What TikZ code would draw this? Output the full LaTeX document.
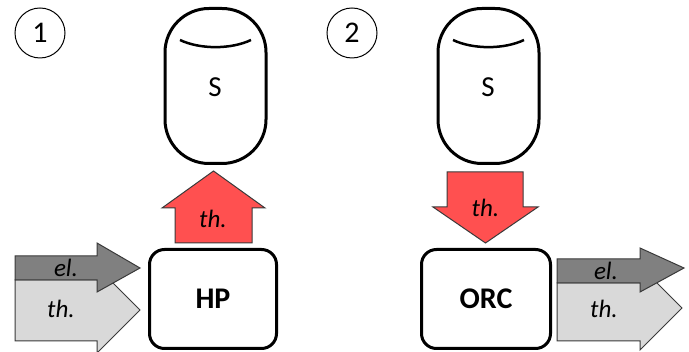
\documentclass[tikz,border=0pt]{standalone}
\usepackage{fontspec}
\setmainfont{Carlito}
\definecolor{heatred}{HTML}{FF5050}
\definecolor{elgray}{HTML}{808080}
\definecolor{thgray}{HTML}{D9D9D9}
\definecolor{edge}{HTML}{3A3A3A}
\begin{document}
\begin{tikzpicture}[x=1pt,y=-1pt,
  tank/.style={draw,line width=3pt,rounded corners=44pt,minimum width=101pt,minimum height=155pt,inner sep=0pt},
  unit/.style={draw,line width=3pt,rounded corners=15pt,minimum height=99pt,inner sep=0pt,font=\fontsize{30}{34}\selectfont\bfseries},
  numcirc/.style={draw,circle,line width=1pt,minimum size=50pt,inner sep=0pt,font=\fontsize{30}{34}\selectfont},
  flow/.style={draw=edge,line width=1pt,line join=miter},
  flowlbl/.style={anchor=base,inner sep=0pt,font=\fontsize{25}{28}\selectfont\itshape},
  biglbl/.style={anchor=base,inner sep=0pt,font=\fontsize{29}{32}\selectfont}]
\useasboundingbox (0,0) rectangle (689,352);

% ---------- panel 1: heat pump charging the storage ----------
\node[numcirc] (n1) at (40,33) {1};
\node[tank] (s1) at (215.5,86) {};
\draw[line width=2.5pt] (180,40) .. controls (200,49.5) and (231,49.5) .. (251,40);
\node[biglbl] (s1t) at (215,97) {S};

% red heat arrow pointing up into the storage
\path[flow,fill=heatred] (175,243) -- (175,208) -- (162,208) -- (213.5,171)
  -- (265,208) -- (252,208) -- (252,243) -- cycle;
\node[flowlbl] (h1) at (213,228) {th.};

\node[unit,minimum width=127pt] (hp) at (213,299) {HP};

% inputs to the heat pump: heat (light) below electricity (dark)
\path[flow,fill=thgray] (15,280) -- (97,280) -- (97,267) -- (140,310)
  -- (97,353) -- (97,341) -- (15,341) -- cycle;
\path[flow,fill=elgray] (15,256) -- (97,256) -- (97,243) -- (140,268)
  -- (97,292) -- (97,280) -- (15,280) -- cycle;
\node[flowlbl] (e1) at (66,277) {el.};
\node[flowlbl] (t1) at (61,318) {th.};

% ---------- panel 2: ORC discharging the storage ----------
\node[numcirc] (n2) at (352,33) {2};
\node[tank] (s2) at (488.5,86) {};
\draw[line width=2.5pt] (453,40) .. controls (473,49.5) and (504,49.5) .. (524,40);
\node[biglbl] (s2t) at (488,97) {S};

% red heat arrow pointing down out of the storage
\path[flow,fill=heatred] (447,172) -- (523,172) -- (523,207) -- (538,207)
  -- (485.5,243) -- (433,207) -- (447,207) -- cycle;
\node[flowlbl] (h2) at (485.5,217) {th.};

\node[unit,minimum width=129pt] (orc) at (486,299) {ORC};

% outputs of the ORC: heat (light) below electricity (dark)
\path[flow,fill=thgray] (557,283) -- (640,283) -- (640,266) -- (682,308)
  -- (640,350) -- (640,341) -- (557,341) -- cycle;
\path[flow,fill=elgray] (557,259) -- (640,259) -- (640,248) -- (684,268)
  -- (640,292) -- (640,283) -- (557,283) -- cycle;
\node[flowlbl] (e2) at (606,280) {el.};
\node[flowlbl] (t2) at (604,318) {th.};
\end{tikzpicture}
\end{document}
